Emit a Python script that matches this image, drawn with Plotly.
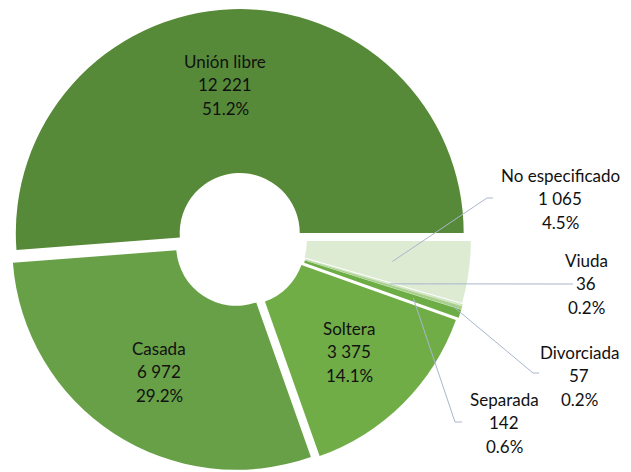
import math
import plotly.graph_objects as go

# ---- data (clockwise order, starting with Unión libre) ----
categories = ["Unión libre", "No especificado", "Viuda", "Divorciada", "Separada", "Soltera", "Casada"]
values = [12221, 1065, 36, 57, 142, 3375, 6972]
colors = ["#578A38", "#DDEBD3", "#D3E6C5", "#A9D18E", "#6CAD45", "#70AD47", "#67A046"]
pulls = [0.031, 0.031, 0.036, 0.036, 0.036, 0.031, 0.031]

# page offset (browser body margin) and figure size
OFF = 8
W, H = 631 - OFF, 472 - OFF
CX, CY = 240, 240          # pie centre in screenshot pixels
BOX = 464
R = BOX / (2 + 2 * max(pulls))
HOLE = 0.268

total = sum(values)
pcts = [v / total * 100 for v in values]

def fmt_num(v):
    return f"{v:,}".replace(",", " ")

# Unión libre ends at 3 o'clock; slices go clockwise
start_std = 360 * values[0] / total
rotation = 90 - start_std

mids = []
acc = start_std
for v in values:
    a1 = acc - 360 * v / total
    mids.append((acc + a1) / 2)
    acc = a1

def px2paper(x, y):
    return (x - OFF) / W, 1 - (y - OFF) / H

dx0, dy1 = px2paper(CX - BOX / 2, CY - BOX / 2)
dx1, dy0 = px2paper(CX + BOX / 2, CY + BOX / 2)

fig = go.Figure()
fig.add_trace(go.Pie(
    labels=categories,
    values=values,
    sort=False,
    direction="clockwise",
    rotation=rotation,
    hole=HOLE,
    pull=pulls,
    marker=dict(colors=colors, line=dict(width=0)),
    textinfo="none",
    hoverinfo="label+value+percent",
    domain=dict(x=[max(0, dx0), min(1, dx1)], y=[max(0, dy0), min(1, dy1)]),
    showlegend=False,
))

label_pos = {
    "Unión libre": (225, 61),
    "Casada": (159, 348),
    "Soltera": (349, 328),
    "No especificado": (560, 175),
    "Viuda": (586, 260),
    "Divorciada": (579, 352),
    "Separada": (504, 399),
}
LS = 23.6
FONT = dict(family="Lato, 'Open Sans', sans-serif", size=17, color="#111111")

annotations = []
for cat, v, p in zip(categories, values, pcts):
    x0, y0 = label_pos[cat]
    lines = [cat, fmt_num(v), f"{p:.1f}%"]
    for k, t in enumerate(lines):
        xp, yp = px2paper(x0, y0 + k * LS)
        annotations.append(dict(x=xp, y=yp, xref="paper", yref="paper", text=t,
                                showarrow=False, xanchor="center", yanchor="middle",
                                font=FONT))

leaders = {
    "No especificado": ([(493, 198), (487, 198)], 0.656),
    "Viuda": ([(573, 284)], 0.66),
    "Divorciada": ([(539, 373), (533, 373)], 0.95),
    "Separada": ([(462, 422), (455, 422)], 0.78),
}
shapes = []
for cat, (pts, frac) in leaders.items():
    i = categories.index(cat)
    ang = math.radians(mids[i])
    dist = frac * R + pulls[i] * R
    tx = CX + dist * math.cos(ang)
    ty = CY - dist * math.sin(ang)
    allpts = pts + [(tx, ty)]
    path = "M " + " L ".join(f"{px2paper(x, y)[0]:.5f},{px2paper(x, y)[1]:.5f}" for x, y in allpts)
    shapes.append(dict(type="path", path=path, xref="paper", yref="paper",
                       line=dict(color="#A9B6CC", width=1)))

fig.update_layout(
    width=W, height=H,
    margin=dict(l=0, r=0, t=0, b=0),
    paper_bgcolor="white", plot_bgcolor="white",
    annotations=annotations,
    shapes=shapes,
)

fig.write_html("out.html")
